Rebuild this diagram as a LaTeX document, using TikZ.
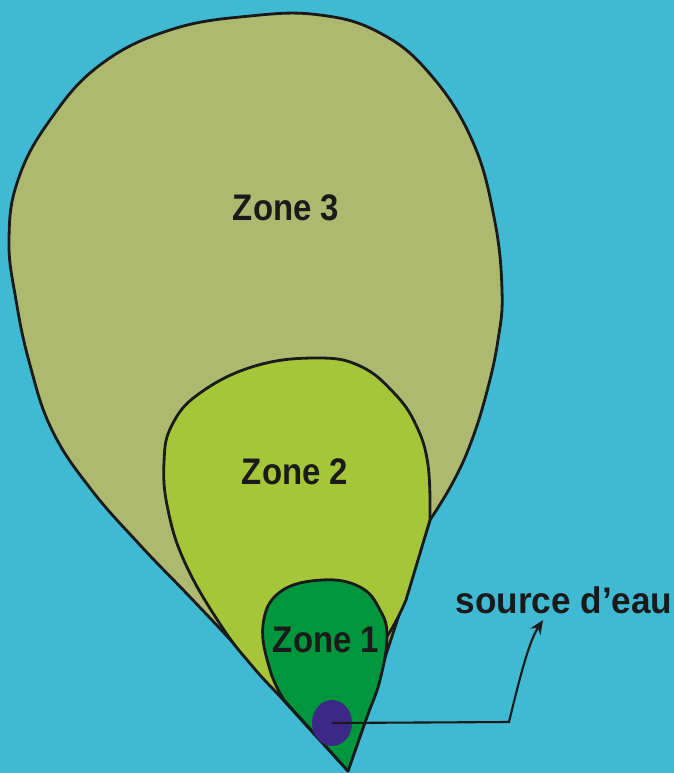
\documentclass[tikz,border=0pt]{standalone}
\usepackage{fontspec}
\usetikzlibrary{arrows.meta,shapes.geometric}
\newfontfamily\zonefont{Liberation Sans}[FakeStretch=0.89]
\newfontfamily\labelfont{Liberation Sans}[FakeStretch=0.95]
\definecolor{sea}{RGB}{64,185,210}
\definecolor{zonethree}{RGB}{174,185,112}
\definecolor{zonetwo}{RGB}{165,198,56}
\definecolor{zoneone}{RGB}{0,150,62}
\definecolor{spring}{RGB}{60,40,135}
\definecolor{ink}{RGB}{26,26,26}
\tikzset{
  zoneline/.style={draw=ink, line width=2.8pt, line join=round},
  zonetext/.style={anchor=base, inner sep=0pt, text=ink, font=\zonefont\bfseries\fontsize{37}{40}\selectfont},
  notetext/.style={anchor=base, inner sep=0pt, text=ink, font=\labelfont\bfseries\fontsize{37}{40}\selectfont},
  pointer/.style={draw=ink, line width=2.1pt, -{Stealth[length=14pt,width=12pt]}}
}
\begin{document}
\begin{tikzpicture}[x=1pt,y=-1pt]
% background
\fill[sea] (0,0) rectangle (674,773);
\useasboundingbox (0,0) rectangle (674,773);

% outer zone
\path[zoneline, fill=zonethree] plot[smooth, tension=0.7] coordinates {
  (430,520) (452,484) (470,445) (486,395) (498,340) (502,290)
  (494,217) (472,140) (430,74) (380,33) (320,15) (250,16)
  (170,30) (100,65) (50,120) (18,180) (9,240) (16,300)
  (30,365) (52,430) (90,488) (140,545) (190,597) (235,645)
  (277,693) (348,771)} -- cycle;

% middle zone
\path[zoneline, fill=zonetwo] plot[smooth, tension=0.7] coordinates {
  (430,520) (428,465) (416,425) (394,393) (360,366)
  (317,358) (255,366) (200,393) (172,425) (164,462) (168,510)
  (186,565) (222,627) (253,667) (277,693)}
  -- (300,716) .. controls (350,690) and (385,650) .. (406,600) -- cycle;

% inner zone
\path[zoneline, fill=zoneone] plot[smooth, tension=0.7] coordinates {
  (284,700) (270,670) (263,625) (280,592) (322,580) (360,587)
  (380,610) (387,637) (380,680) (367,717) (348,771)} -- cycle;

% water source
\node[ellipse, fill=spring, minimum width=40pt, minimum height=46pt, inner sep=0pt] (src) at (332,723) {};

% labels
\node[zonetext] (z3) at (286,220) {Zone 3};
\node[zonetext] (z2) at (295,484) {Zone 2};
\node[zonetext] (z1) at (326,652) {Zone 1};
\node[notetext] (note) at (564,613) {source d’eau};

% leader from the source to its label
\coordinate (bend) at (509,722);
\coordinate (head) at (543,620);
\draw[pointer] (src.center) -- (bend) .. controls (522,668) and (530,640) .. (head);
\end{tikzpicture}
\end{document}
